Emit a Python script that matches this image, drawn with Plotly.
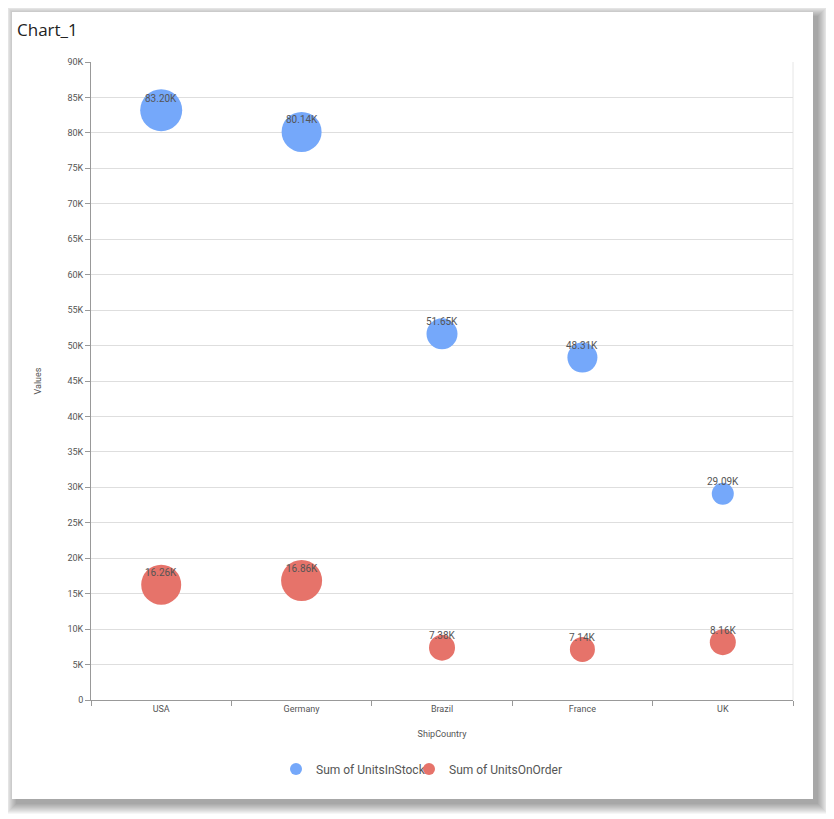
import plotly.graph_objects as go

countries = ["USA", "Germany", "Brazil", "France", "UK"]
units_in_stock = [83200, 80140, 51650, 48310, 29090]
units_on_order = [16260, 16860, 7380, 7140, 8160]
# bubble size measure (px diameter)
size_in_stock = [42, 40, 31, 30, 22]
size_on_order = [40, 41, 26, 25, 26]
y_tick_vals = list(range(0, 90001, 5000))
y_tick_text = ["0" if v == 0 else f"{v // 1000}K" for v in y_tick_vals]

OFF = 8  # page body margin
W, H = 834 - OFF, 819 - OFF
L, R, T, B = 91 - OFF, 793 - OFF, 62 - OFF, 700 - OFF
BLUE = "#75a8fa"
RED = "#e6736a"

def px(x):
    return (x - OFF - L) / (R - L)

def py(y):
    return (B - (y - OFF)) / (B - T)

fig = go.Figure()
fig.add_trace(go.Scatter(
    x=countries, y=units_in_stock, mode="markers", name="Sum of UnitsInStock",
    marker=dict(size=size_in_stock, color=BLUE, opacity=1, line=dict(width=0)),
    legend="legend",
))
fig.add_trace(go.Scatter(
    x=countries, y=units_on_order, mode="markers", name="Sum of UnitsOnOrder",
    marker=dict(size=size_on_order, color=RED, opacity=1, line=dict(width=0)),
    legend="legend2",
))

annotations = []
for series in (units_in_stock, units_on_order):
    for c, v in zip(countries, series):
        annotations.append(dict(
            x=c, y=v, xref="x", yref="y", text=f"{v/1000:.2f}K", showarrow=False,
            yshift=12, font=dict(family="Roboto", size=10, color="#555555"),
        ))

annotations.append(dict(
    x=px(15), y=py(30), xref="paper", yref="paper", xanchor="left", yanchor="middle",
    text="Chart_1", showarrow=False, font=dict(family="Open Sans", size=17, color="#222222"),
))

shapes = []
# card shadow (soft, offset down-right)
for e in range(1, 12):
    shapes.append(dict(
        type="rect", xref="paper", yref="paper", layer="below",
        x0=px(12 + 5 - e), x1=px(813 + 4 + e), y0=py(12 + 5 - e), y1=py(799 + 4 + e),
        fillcolor="rgba(0,0,0,0.035)", line=dict(width=0),
    ))
shapes.append(dict(
    type="rect", xref="paper", yref="paper", layer="below",
    x0=px(12), x1=px(813), y0=py(12), y1=py(799),
    fillcolor="white", line=dict(width=0),
))
# right plot border
shapes.append(dict(
    type="line", xref="paper", yref="paper", layer="below",
    x0=1, x1=1, y0=0, y1=1, line=dict(color="#e6e6e6", width=1),
))

legend_common = dict(
    orientation="h", yanchor="middle", y=py(769), xanchor="left",
    font=dict(family="Roboto", size=12, color="#555555"), itemsizing="constant",
    bgcolor="rgba(0,0,0,0)", borderwidth=0,
)

fig.update_layout(
    width=W, height=H,
    margin=dict(l=L, r=W - R, t=T, b=H - B),
    paper_bgcolor="white", plot_bgcolor="rgba(0,0,0,0)",
    font=dict(family="Roboto", color="#555555"),
    showlegend=True,
    legend=dict(x=px(296 - 20), **legend_common),
    legend2=dict(x=px(429 - 20), **legend_common),
    annotations=annotations,
    shapes=shapes,
    xaxis=dict(
        type="category", categoryorder="array", categoryarray=countries,
        tickson="boundaries", ticks="outside", ticklen=5, tickcolor="#999999",
        showline=True, linecolor="#999999", linewidth=1, showgrid=False,
        tickfont=dict(size=9, color="#555555"),
        title=dict(text="ShipCountry", font=dict(size=9, color="#555555"), standoff=17),
        range=[-0.5, 4.5], zeroline=False,
    ),
    yaxis=dict(
        range=[0, 90000], tickvals=y_tick_vals, ticktext=y_tick_text,
        ticks="outside", ticklen=5, tickcolor="#999999",
        showline=True, linecolor="#999999", linewidth=1,
        showgrid=True, gridcolor="#dedede", gridwidth=1, zeroline=False,
        tickfont=dict(size=9, color="#555555"),
        title=dict(text="Values", font=dict(size=9, color="#555555"), standoff=24),
    ),
)

fig.write_html("out.html")
